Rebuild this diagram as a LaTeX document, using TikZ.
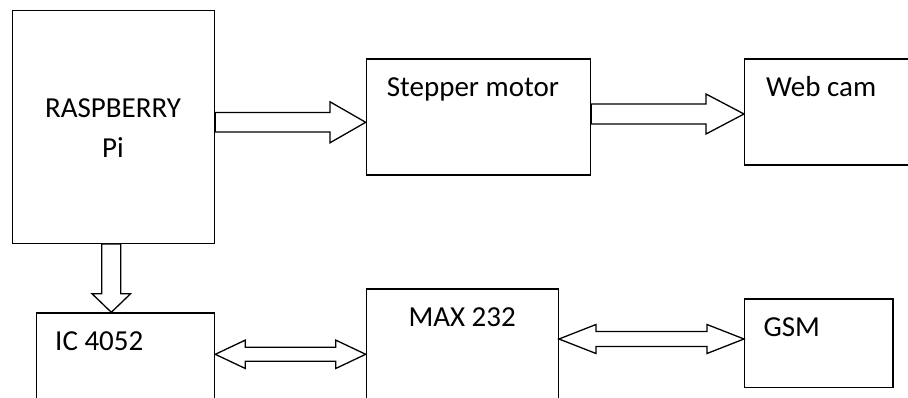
\documentclass[tikz,border=0pt]{standalone}
\usepackage{fontspec}
\setmainfont{Carlito}
\usetikzlibrary{calc}

\tikzset{
  box/.style={draw, line width=1.3pt, rectangle, anchor=north west, inner sep=0pt},
  lbl/.style={inner sep=0pt, font=\fontsize{29}{40}\selectfont},
  fat/.style={draw, line width=1.3pt, line join=miter, fill=white}
}

% fat arrow: start, end, shaft half width, head half width, head length
\newcommand{\onewayarrow}[5]{%
  \coordinate (hb) at ($(#2)!#5!(#1)$);
  \draw[fat] ($(#1)!#3!90:(#2)$) -- ($(hb)!#3!90:(#2)$) -- ($(hb)!#4!90:(#2)$) -- (#2)
    -- ($(hb)!#4!-90:(#2)$) -- ($(hb)!#3!-90:(#2)$) -- ($(#1)!#3!-90:(#2)$) -- cycle;}
% same with a head at both ends
\newcommand{\twowayarrow}[5]{%
  \coordinate (ha) at ($(#1)!#5!(#2)$);
  \coordinate (hb) at ($(#2)!#5!(#1)$);
  \draw[fat] (#1) -- ($(ha)!#4!90:(#2)$) -- ($(ha)!#3!90:(#2)$) -- ($(hb)!#3!90:(#2)$)
    -- ($(hb)!#4!90:(#2)$) -- (#2) -- ($(hb)!#4!-90:(#2)$) -- ($(hb)!#3!-90:(#2)$)
    -- ($(ha)!#3!-90:(#2)$) -- ($(ha)!#4!-90:(#2)$) -- cycle;}

\begin{document}
\begin{tikzpicture}[x=1pt, y=-1pt]
    \useasboundingbox (0,0) rectangle (908,398);
    \clip (0,0) rectangle (908,398);
    % blocks
    \node[box, minimum width=202pt, minimum height=232.7pt] (raspi) at (12,10) {};
    \node[box, minimum width=224.3pt, minimum height=116pt] (stepper) at (365.7,58.3) {};
    \node[box, minimum width=220pt, minimum height=106pt] (webcam) at (744,58.3) {};
    \node[box, minimum width=178pt, minimum height=130pt] (ic) at (36,312.3) {};
    \node[box, minimum width=192pt, minimum height=150pt] (max) at (365.7,288.3) {};
    \node[box, minimum width=148.3pt, minimum height=88.4pt] (gsm) at (744,298.3) {};
    % texts
    \node[lbl, align=center, anchor=north] (raspitext) at (113,98.5) {RASPBERRY\\Pi};
    \node[lbl, anchor=base west] (steppertext) at (386.7,96.7) {Stepper motor};
    \node[lbl, anchor=base west] (webcamtext) at (766,96.7) {Web cam};
    \node[lbl, anchor=base west] (ictext) at (55,350.7) {IC 4052};
    \node[lbl, anchor=base west] (maxtext) at (408.3,326.7) {MAX 232};
    \node[lbl, anchor=base west] (gsmtext) at (763.3,336.7) {GSM};
    % arrow ends
    \coordinate (r1) at (raspi.east |- 0,122.3);
    \coordinate (s1) at (stepper.west |- 0,122.3);
    \coordinate (s2) at (stepper.east |- 0,114);
    \coordinate (w2) at (webcam.west |- 0,114);
    \coordinate (r3) at (111.3,0 |- raspi.south);
    \coordinate (i3) at (111.3,0 |- ic.north);
    \coordinate (i4) at (ic.east |- 0,354.3);
    \coordinate (m4) at (max.west |- 0,354.3);
    \coordinate (m5) at (max.east |- 0,339);
    \coordinate (g5) at (gsm.west |- 0,339);
    % arrows
    \onewayarrow{r1}{s1}{9.7pt}{20.5pt}{35.7pt}
    \onewayarrow{s2}{w2}{10pt}{20pt}{38pt}
    \onewayarrow{r3}{i3}{9.5pt}{19.2pt}{18.5pt}
    \twowayarrow{i4}{m4}{7pt}{14.2pt}{30pt}
    \twowayarrow{m5}{g5}{7.5pt}{14.5pt}{37pt}
\end{tikzpicture}
\end{document}
